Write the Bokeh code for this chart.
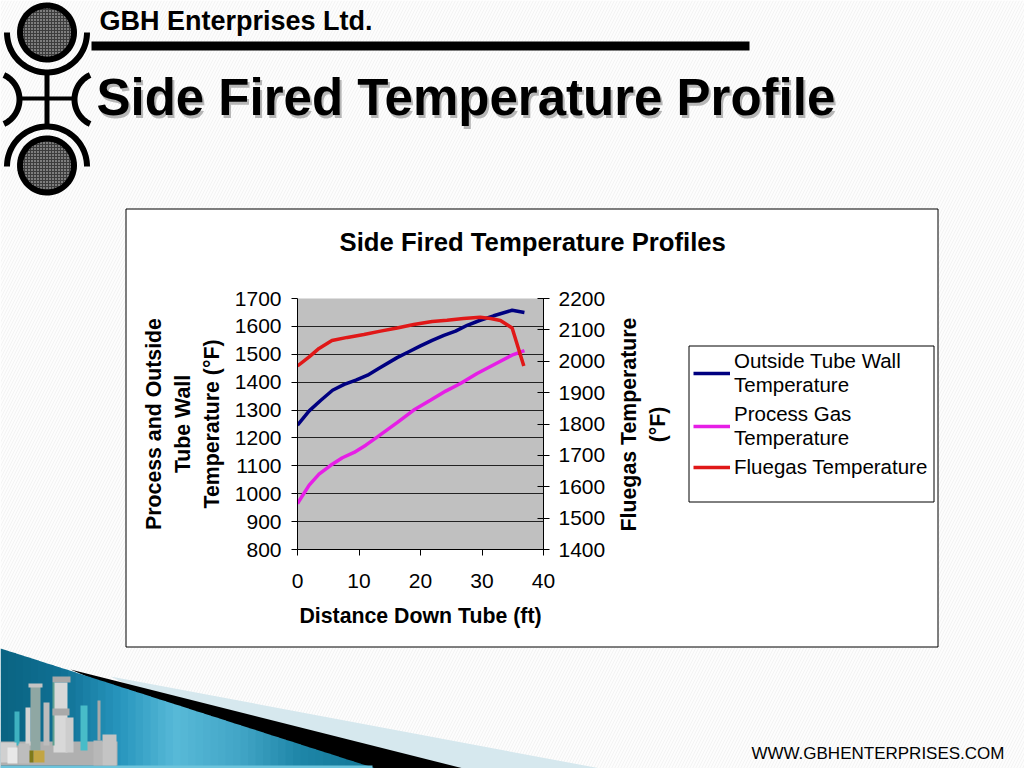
import math
import numpy as np
from bokeh.embed import file_html
from bokeh.layouts import column
from bokeh.core.properties import value
from bokeh.resources import INLINE
from bokeh.plotting import figure
from bokeh.models import LinearAxis, Range1d, Legend, LegendItem, FixedTicker

# ---- data
distance_wall = [0, 1.9, 3.8, 5.7, 7.6, 9.5, 11.4, 13.2, 16.2, 18.1, 20, 21.9, 23.8, 25.7, 27.6, 29.7, 31.9, 34.9, 36.9]
wall_temp = [1246, 1297, 1335, 1371, 1392, 1407, 1425, 1449, 1488, 1509, 1530, 1550, 1568, 1583, 1604, 1622, 1638, 1658, 1650]
distance_gas = [0, 1.9, 3.5, 5.4, 7.3, 9.2, 11.1, 13, 16.2, 18.9, 21.6, 24.1, 26.5, 29.2, 33, 35.1, 36.9]
gas_temp = [965, 1031, 1070, 1102, 1129, 1148, 1174, 1204, 1255, 1300, 1335, 1368, 1395, 1431, 1475, 1499, 1513]
distance_flue = [0, 1.9, 3.5, 5.6, 8.1, 10.8, 13.5, 16.2, 18.9, 21.9, 24.3, 27, 29.7, 31.4, 33, 34.9, 36.8]
flue_temp = [1985, 2014, 2041, 2066, 2076, 2085, 2096, 2106, 2117, 2127, 2131, 2136, 2140, 2136, 2130, 2106, 1985]
x_ticks = [0, 10, 20, 30, 40]
left_ticks = [800, 900, 1000, 1100, 1200, 1300, 1400, 1500, 1600, 1700]
right_ticks = [1400, 1500, 1600, 1700, 1800, 1900, 2000, 2100, 2200]

FONT = "Liberation Sans"
W, H = 1024, 768
WALL, GAS, FLUE = "#000080", "#e61ee6", "#e01818"

# ---- slide backdrop: a figure whose frame is the whole page
bg = figure(width=W, height=H, output_backend="svg", toolbar_location=None, frame_align=False,
            x_range=Range1d(0, W), y_range=Range1d(H, 0), x_axis_type=None, y_axis_type=None,
            min_border=0, outline_line_color=None, background_fill_color="#fdfdfd", border_fill_color="#fdfdfd")
bg.grid.visible = False

def box(x0, y0, x1, y1, color, line=None, lw=1):
    bg.quad(left=x0, right=x1, top=y0, bottom=y1, fill_color=color, line_color=line, line_width=lw)

def poly(xs, ys, color, **kw):
    bg.patch(list(map(float, xs)), list(map(float, ys)), fill_color=color, line_color=None, **kw)

def text(x, y, s, size, color="black", bold=False, align="left", baseline="middle", alpha=1.0, angle=0):
    bg.text([x], [y], text=[s], text_font=value(FONT), text_font_size=f"{size}px", text_color=color,
            text_alpha=alpha, text_font_style="bold" if bold else "normal",
            text_align=align, text_baseline=baseline, angle=angle)

def ring(cx, cy, r0, r1, a0, a1, color="black"):
    t = np.radians(np.linspace(a0, a1, 50))
    poly(np.r_[cx + r1 * np.cos(t), cx + r0 * np.cos(t[::-1])],
         np.r_[cy + r1 * np.sin(t), cy + r0 * np.sin(t[::-1])], color)

# faint paper stripes
bg.quad(left=0, right=W, top=0, bottom=H, fill_color="#fdfdfd", line_color=None,
        hatch_pattern="right_diagonal_line", hatch_color="#f3f3f3", hatch_scale=6, hatch_weight=1)

# bottom wedge
poly([110, 600, 300], [676, 768, 768], "#d6e8ee")
poly([70, 463, 300], [669, 768, 768], "black")
stops_x = [0, 60, 120, 175, 240, 300, 375]
stops_rgb = np.array([[10, 100, 130], [16, 112, 148], [40, 150, 190], [88, 186, 216], [66, 165, 198], [30, 134, 168], [18, 118, 150]])
strips = np.linspace(0, 375, 51)
for a, b in zip(strips[:-1], strips[1:]):
    mid = (a + b) / 2
    c = [int(np.interp(mid, stops_x, stops_rgb[:, k])) for k in range(3)]
    poly([a, b + 0.5, b + 0.5, a], [648 + a * 0.32, 648 + b * 0.32, 768, 768], "#%02x%02x%02x" % tuple(c))
box(0, 765, 372, 768, "#6cc4dc")

# refinery
box(0, 741, 117, 765, "#b0b0b0")
box(30, 685, 40, 750, "#8fa7a3")
box(28, 683, 42, 687, "#c4c4c4")
box(52, 676, 70, 682, "#a8a8a8")
box(53, 682, 67, 752, "#d8d8d8")
box(52, 682, 54, 745, "#5f9f8f")
box(52, 708, 69, 715, "#a9a9a9")
box(14, 711, 19, 745, "#3fb2c0")
box(25, 707, 30, 745, "#d4d4d4")
box(43, 702, 49, 745, "#bcbcbc")
box(65, 717, 73, 752, "#cdcdcd")
box(80, 705, 87, 750, "#48bcc8")
box(97, 700, 100, 740, "#a9a9a9")
box(0, 742, 16, 762, "#d0d0d0")
box(7, 747, 17, 763, "#e8e8e8")
box(18, 743, 29, 763, "#bdbdbd")
box(93, 740, 102, 765, "#b8b8b8")
box(102, 734, 116, 765, "#c4c4c4")
box(33, 750, 44, 762, "#c2a544")
box(29, 750, 33, 762, "#7f7a1a")

# logo
for cy in (32, 165):
    t = np.radians(np.linspace(0, 360, 60))
    poly(46.5 + 30 * np.cos(t), cy + 30 * np.sin(t), "black")
    poly(46.5 + 24 * np.cos(t), cy + 24 * np.sin(t), "#3c3c3c",
         hatch_pattern="dot", hatch_color="#dddddd", hatch_scale=3, hatch_weight=1)
ring(46.5, 32, 37, 43, 0, 180)
ring(46.5, 166, 37, 43, 180, 360)
box(44, 72, 49, 125, "black")
box(18, 96, 75, 100, "black")
ring(-8, 99, 24, 30, -65, 65)
ring(101, 99, 24, 30, 115, 245)

# header
box(91, 41, 749, 50, "black")
text(99, 20, "GBH Enterprises Ltd.", 27, bold=True)
text(98, 100, "Side Fired Temperature Profile", 51, color="#999999", bold=True, alpha=0.7)
text(96, 97, "Side Fired Temperature Profile", 51, bold=True)
text(1004, 753, "WWW.GBHENTERPRISES.COM", 17, align="right")

# white chart box and legend box
box(125.5, 208.5, 937.5, 646.5, "white", "black", 1)
box(688.5, 345.5, 933.5, 501.5, "white", "black", 1)

# right-hand axis title, read upward as in the reference
text(643, 424, "Fluegas Temperature\n(°F)", 21.3, bold=True, align="center", angle=math.pi / 2)

# legend lives on the backdrop, where it is not clipped to the small plot frame;
# its keys use the series values, which fall below the backdrop's page-sized range
k1 = bg.line(distance_wall, wall_temp, line_color=WALL, line_width=3.5)
k2 = bg.line(distance_gas, gas_temp, line_color=GAS, line_width=3.5)
k3 = bg.line(distance_flue, flue_temp, line_color=FLUE, line_width=3.5)
legend = Legend(items=[LegendItem(label="Outside Tube Wall\nTemperature", renderers=[k1]),
                       LegendItem(label="Process Gas\nTemperature", renderers=[k2]),
                       LegendItem(label="Fluegas Temperature", renderers=[k3])],
                location=(693, H - 479), orientation="vertical",
                label_text_font=FONT, label_text_font_size="20.5px", label_text_color="black",
                glyph_width=37, spacing=5, padding=5, margin=0, label_standoff=4,
                border_line_color=None, background_fill_alpha=0)
bg.add_layout(legend, "center")

# ---- chart figure laid on top of the backdrop
p = figure(width=W, height=H, output_backend="svg", toolbar_location=None, frame_align=False,
           x_range=Range1d(0, 40), y_range=Range1d(800, 1700),
           min_border_left=297, min_border_right=W - 543,
           min_border_top=298, min_border_bottom=H - 549,
           border_fill_color=None, background_fill_color="#c0c0c0", outline_line_color=None,
           styles={"position": "absolute", "left": "0px", "top": "0px"})

p.title.text = "Side Fired Temperature Profiles"
p.title.text_font = FONT
p.title.text_font_size = "25.7px"
p.title.text_font_style = "bold"
p.title.text_color = "black"
p.title.align = "left"
p.title.offset = 42
p.title.standoff = 85

p.extra_y_ranges = {"flue": Range1d(1400, 2200)}
right = LinearAxis(y_range_name="flue", ticker=FixedTicker(ticks=right_ticks))
p.add_layout(right, "right")
left = p.yaxis[0]
left.ticker = FixedTicker(ticks=left_ticks)
bottom = p.xaxis[0]
bottom.ticker = FixedTicker(ticks=x_ticks)
left.axis_label = "Process and Outside\nTube Wall\nTemperature (°F)"
bottom.axis_label = "Distance Down Tube (ft)"
for ax in (left, right, bottom):
    ax.axis_line_color = "black"
    ax.axis_line_width = 1
    ax.major_tick_line_color = "black"
    ax.minor_tick_line_color = None
    ax.major_label_text_font = FONT
    ax.major_label_text_font_size = "21px"
    ax.major_label_text_color = "black"
    ax.axis_label_text_font = FONT
    ax.axis_label_text_font_size = "21.3px"
    ax.axis_label_text_font_style = "bold"
    ax.axis_label_text_color = "black"
left.major_tick_in = 0
left.major_tick_out = 6
bottom.major_tick_in = 0
bottom.major_tick_out = 6
right.major_tick_in = 6
right.major_tick_out = 6
left.major_label_standoff = 10
right.major_label_standoff = 9
bottom.major_label_standoff = 18
left.axis_label_standoff = 8
bottom.axis_label_standoff = 13

p.xgrid.visible = False
p.ygrid.ticker = FixedTicker(ticks=left_ticks)
p.ygrid.grid_line_color = "#222222"
p.ygrid.grid_line_width = 1

p.line(distance_wall, wall_temp, line_color=WALL, line_width=3.5)
p.line(distance_gas, gas_temp, line_color=GAS, line_width=3.5)
p.line(distance_flue, flue_temp, line_color=FLUE, line_width=3.5, y_range_name="flue")

open("out.html", "w").write(file_html(column(bg, p, width=W, height=H), INLINE))
